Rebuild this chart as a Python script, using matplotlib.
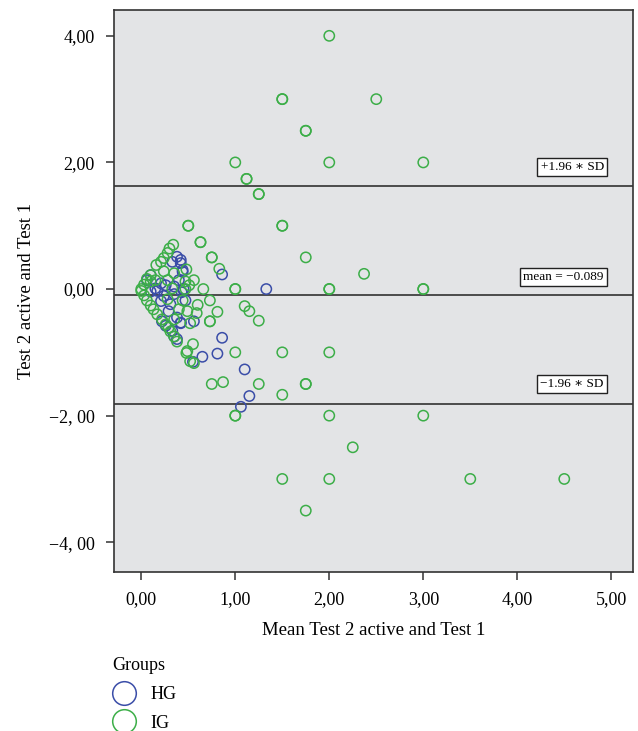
import matplotlib
matplotlib.use("Agg")
import matplotlib.pyplot as plt
from matplotlib.lines import Line2D

plt.rcParams['font.family'] = ['Liberation Serif', 'DejaVu Serif']

# HG group (blue): mean of tests, difference
hg_mean = [0.38, 0.42, 0.33, 0.44, 0.40, 0.10, 0.06, 0.21, 0.15, 0.26, 0.35, 0.42, 0.44, 0.45,
           0.86, 1.33, 0.17, 0.24, 0.21, 0.31, 0.29, 0.38, 0.42, 0.22, 0.26, 0.33, 0.38, 0.35,
           0.10, 0.35, 0.43, 0.47, 0.56, 0.42, 0.86, 0.65, 0.81, 0.55, 1.10, 1.15, 1.06]
hg_diff = [0.51, 0.41, 0.43, 0.27, 0.14, 0.22, 0.14, 0.09, 0.01, 0.06, 0.04, 0.46, 0.30, 0.00,
           0.23, 0.00, -0.03, -0.11, -0.19, -0.24, -0.35, -0.45, -0.53, -0.51, -0.58, -0.66, -0.79, -0.75,
           -0.04, -0.08, -0.05, -0.18, -0.51, -0.54, -0.77, -1.07, -1.02, -1.15, -1.27, -1.69, -1.86]

# IG group (green)
ig_mean = [2.0, 1.5, 1.5, 2.5, 1.75, 1.75, 1.0, 2.0, 3.0, 1.12, 1.12, 1.25, 1.25, 0.5, 0.5,
           1.5, 1.5, 0.63, 0.63, 0.75, 0.75, 1.75, 0.83, 2.37, 0.66, 1.0, 1.0, 2.0, 2.0, 3.0, 3.0,
           0.34, 0.30, 0.28, 0.24, 0.21, 0.16, 0.24, 0.35, 0.28, 0.15, 0.10, 0.03, 0.47, 0.0,
           0.33, 0.48, 0.56, 0.51, 0.47, 0.10, 0.06,
           0.0, 0.03, 0.06, 0.10, 0.13, 0.17, 0.22, 0.26, 0.29, 0.35, 0.40, 0.44, 0.28, 0.31,
           0.35, 0.38, 0.49, 0.52,
           0.73, 0.60, 0.49, 0.59, 0.81, 0.52, 0.73, 0.73, 0.55, 0.48, 1.0, 0.56, 1.10, 1.15,
           1.25, 1.5, 2.0, 0.75, 0.87, 1.25, 1.75, 1.75, 1.5, 1.0, 1.0, 2.0, 3.0, 2.25, 1.5,
           2.0, 3.5, 4.5, 1.75]
ig_diff = [4.0, 3.0, 3.0, 3.0, 2.5, 2.5, 2.0, 2.0, 2.0, 1.74, 1.74, 1.5, 1.5, 1.0, 1.0,
           1.0, 1.0, 0.74, 0.74, 0.5, 0.5, 0.5, 0.32, 0.24, 0.0, 0.0, 0.0, 0.0, 0.0, 0.0, 0.0,
           0.70, 0.64, 0.57, 0.49, 0.43, 0.38, 0.28, 0.25, 0.14, 0.14, 0.12, 0.07, 0.12, 0.0,
           0.01, 0.31, 0.14, 0.06, 0.0, 0.22, 0.16,
           -0.03, -0.10, -0.18, -0.26, -0.32, -0.40, -0.48, -0.56, -0.61, -0.48, -0.32, -0.18, -0.16, -0.67,
           -0.75, -0.83, -0.98, -1.14,
           -0.18, -0.25, -0.35, -0.38, -0.36, -0.54, -0.51, -0.51, -0.87, -1.01, -1.0, -1.17, -0.27, -0.35,
           -0.5, -1.0, -1.0, -1.5, -1.47, -1.5, -1.5, -1.5, -1.67, -2.0, -2.0, -2.0, -2.0, -2.5, -3.0,
           -3.0, -3.0, -3.0, -3.5]

# Bland-Altman lines
upper_loa = 1.63
mean_diff = -0.089
lower_loa = -1.81

x_ticks = [0, 1, 2, 3, 4, 5]
x_labels = ['0,00', '1,00', '2,00', '3,00', '4,00', '5,00']
y_ticks = [4, 2, 0, -2, -4]
y_labels = ['4,00', '2,00', '0,00', '\u22122, 00', '\u22124, 00']

blue = '#3a4da8'
green = '#3cae48'

fig = plt.figure(figsize=(6.38, 7.31), dpi=100)
ax = fig.add_axes([0.1787, 0.2175, 0.8133, 0.769])
ax.set_facecolor('#e3e4e6')

ax.scatter(hg_mean, hg_diff, s=55, facecolors='none', edgecolors=blue, linewidths=1.1, zorder=3)
ax.scatter(ig_mean, ig_diff, s=55, facecolors='none', edgecolors=green, linewidths=1.1, zorder=3)

for yv in [upper_loa, mean_diff, lower_loa]:
    ax.axhline(yv, color='#222222', lw=1.1, zorder=2)

box = dict(boxstyle='square,pad=0.25', fc='white', ec='#222222', lw=1.0)
ax.text(4.92, 1.93, '+1.96 \u2217 SD', ha='right', va='center', fontsize=9.5, bbox=box, zorder=4)
ax.text(4.92, 0.19, 'mean = \u22120.089', ha='right', va='center', fontsize=9.5, bbox=box, zorder=4)
ax.text(4.92, -1.50, '\u22121.96 \u2217 SD', ha='right', va='center', fontsize=9.5, bbox=box, zorder=4)

ax.set_xlim(-0.29, 5.23)
ax.set_ylim(-4.47, 4.41)
ax.set_xticks(x_ticks)
ax.set_xticklabels(x_labels)
ax.set_yticks(y_ticks)
ax.set_yticklabels(y_labels)
ax.tick_params(direction='out', length=6, width=1.1, labelsize=13, pad=8, color='#333333')
for sp in ax.spines.values():
    sp.set_linewidth(1.2)
    sp.set_color('#333333')

ax.set_xlabel('Mean Test 2 active and Test 1', fontsize=13.5, labelpad=10)
ax.set_ylabel('Test 2 active and Test 1', fontsize=13.5, labelpad=10)

handles = [Line2D([], [], ls='none', marker='o', markersize=17, mfc='none', mec=blue, mew=1.1),
           Line2D([], [], ls='none', marker='o', markersize=17, mfc='none', mec=green, mew=1.1)]
fig.legend(handles, ['HG', 'IG'], title='Groups', loc='upper left',
           bbox_to_anchor=(0.176, 0.101), frameon=False, fontsize=13, title_fontsize=13,
           alignment='left', handlelength=1.3, handletextpad=0.8, labelspacing=0.65,
           borderaxespad=0, borderpad=0)

fig.savefig('out.png', dpi=100)
